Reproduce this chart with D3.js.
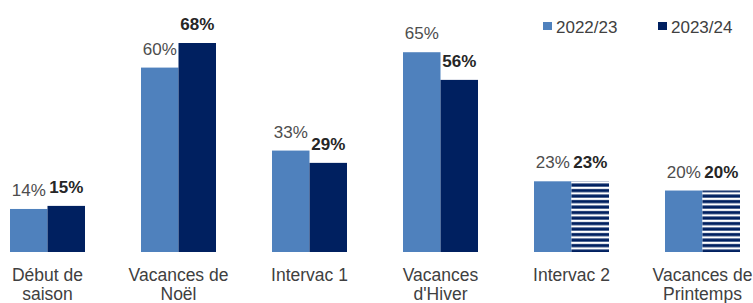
<!DOCTYPE html>
<html>
<head>
<meta charset="utf-8">
<script src="https://cdn.jsdelivr.net/npm/d3@7"></script>
<style>
  body { margin: 0; background: #fff; }
  text { font-family: "Liberation Sans", Arial, sans-serif; }
</style>
</head>
<body>
<script>
// periods of the season
var categories = [["Début de", "saison"], ["Vacances de", "Noël"], ["Intervac 1"],
                  ["Vacances", "d'Hiver"], ["Intervac 2"], ["Vacances de", "Printemps"]];
var series = ["2022/23", "2023/24"];
var values2223 = [14, 60, 33, 65, 23, 20];
var values2324 = [15, 68, 29, 56, 23, 20];
// last two periods of 2023/24 are drawn hatched
var hatched2324 = [false, false, false, false, true, true];

var WIDTH = 753, HEIGHT = 303;
var LIGHT = "#4f81bd", DARK = "#002060";

var svg = d3.select("body").append("svg")
    .attr("width", WIDTH)
    .attr("height", HEIGHT);

var pat = svg.append("defs").append("pattern")
    .attr("id", "stripes")
    .attr("patternUnits", "userSpaceOnUse")
    .attr("width", 8)
    .attr("height", 5.5);
pat.append("rect").attr("width", 8).attr("height", 5.5).attr("fill", "#fff");
pat.append("rect").attr("y", 2).attr("width", 8).attr("height", 3.2).attr("fill", DARK);

var keys = categories.map(function(d, i) { return i; });

var x = d3.scaleBand()
    .domain(keys)
    .range([10, 740])
    .paddingInner(56 / 131)
    .paddingOuter(0);

var x1 = d3.scaleBand()
    .domain(series)
    .range([0, x.bandwidth()]);

var y = d3.scaleLinear()
    .domain([0, 68])
    .range([252, 43]);

var rows = [];
keys.forEach(function(i) {
  rows.push({ cat: i, s: series[0], v: values2223[i], fill: LIGHT, bold: false });
  rows.push({ cat: i, s: series[1], v: values2324[i],
              fill: hatched2324[i] ? "url(#stripes)" : DARK, bold: true });
});

svg.selectAll("rect.bar")
  .data(rows)
  .enter().append("rect")
    .attr("class", "bar")
    .attr("x", function(d) { return x(d.cat) + x1(d.s); })
    .attr("y", function(d) { return y(d.v); })
    .attr("width", x1.bandwidth())
    .attr("height", function(d) { return y(0) - y(d.v); })
    .attr("fill", function(d) { return d.fill; });

svg.selectAll("text.val")
  .data(rows)
  .enter().append("text")
    .attr("class", "val")
    .attr("x", function(d) { return x(d.cat) + x1(d.s) + x1.bandwidth() / 2; })
    .attr("y", function(d) { return y(d.v) - 13; })
    .attr("text-anchor", "middle")
    .style("font-size", "17px")
    .style("font-weight", function(d) { return d.bold ? "bold" : "normal"; })
    .style("fill", function(d) { return d.bold ? "#262626" : "#4d4d4d"; })
    .text(function(d) { return d.v + "%"; });

// category labels (x axis without line / ticks)
var xAxis = svg.append("g")
    .attr("transform", "translate(0,252)")
    .call(d3.axisBottom(x).tickSize(0).tickFormat(""));
xAxis.select(".domain").remove();

xAxis.selectAll(".tick").each(function(i) {
  var t = d3.select(this).append("text")
      .attr("text-anchor", "middle")
      .attr("fill", "#404040")
      .style("font-size", "17.5px");
  categories[i].forEach(function(line, k) {
    t.append("tspan")
      .attr("x", 0)
      .attr("y", 29 + k * 19)
      .text(line);
  });
});

// legend
var legend = svg.append("g")
  .selectAll("g")
  .data(series)
  .enter().append("g")
    .attr("transform", function(d, i) { return "translate(" + (543 + i * 115) + ",0)"; });

legend.append("rect")
    .attr("y", 22)
    .attr("width", 9)
    .attr("height", 8)
    .attr("fill", function(d, i) { return i === 0 ? LIGHT : DARK; });

legend.append("text")
    .attr("x", 13)
    .attr("y", 33)
    .style("font-size", "17px")
    .attr("fill", "#404040")
    .text(function(d) { return d; });
</script>
</body>
</html>
